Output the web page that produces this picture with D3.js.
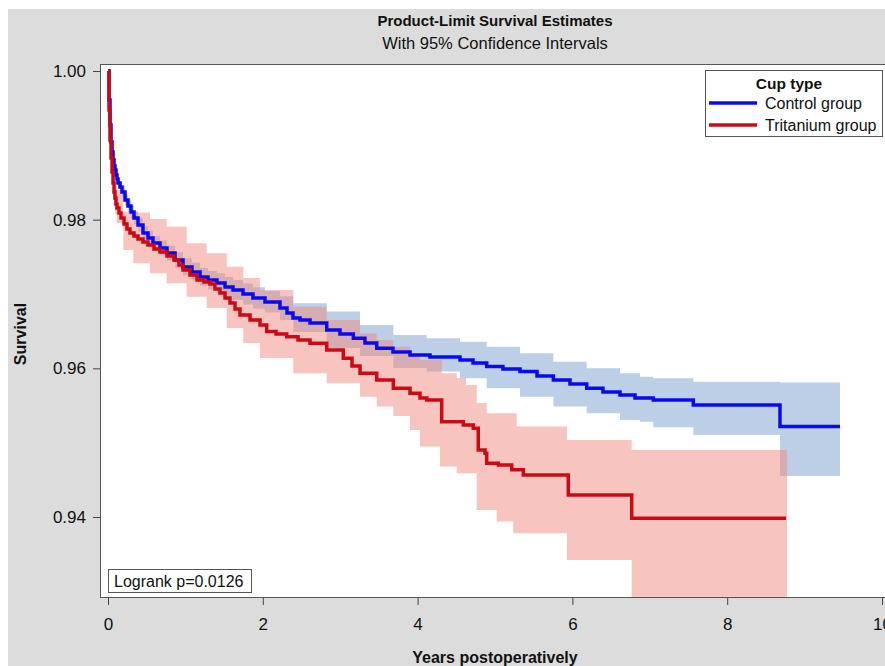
<!DOCTYPE html>
<html>
<head>
<meta charset="utf-8">
<script src="https://cdn.jsdelivr.net/npm/d3@7"></script>
<style>
  body { margin: 0; background: #fff; }
  svg { display: block; font-family: "Liberation Sans", Arial, sans-serif; }
</style>
</head>
<body>
<svg id="chart" width="885" height="666"></svg>
<script>
// Product-limit estimates: [years, survival]
const controlSurv = [
  [0, 1], [0.013, 0.9961], [0.026, 0.99274], [0.039, 0.99045], [0.052, 0.98911],
  [0.065, 0.98803], [0.078, 0.98722], [0.09, 0.98668], [0.103, 0.98601], [0.116, 0.98547],
  [0.129, 0.98494], [0.155, 0.9844], [0.181, 0.98373], [0.22, 0.98265], [0.258, 0.98184],
  [0.297, 0.98104], [0.336, 0.98023], [0.388, 0.97929], [0.452, 0.97821], [0.517, 0.97754],
  [0.581, 0.97687], [0.672, 0.9762], [0.762, 0.97552], [0.866, 0.97458], [0.969, 0.97364],
  [1.085, 0.97297], [1.189, 0.97229], [1.292, 0.97189], [1.408, 0.97149], [1.512, 0.97095],
  [1.615, 0.97055], [1.744, 0.97001], [1.873, 0.96947], [2.028, 0.96893], [2.222, 0.96812],
  [2.313, 0.96745], [2.39, 0.96678], [2.481, 0.96651], [2.61, 0.96611], [2.826, 0.96517],
  [2.997, 0.96463], [3.17, 0.96405], [3.32, 0.96342], [3.472, 0.9627], [3.682, 0.96221],
  [3.902, 0.9618], [4.16, 0.96153], [4.548, 0.96113], [4.716, 0.96073], [4.893, 0.96023],
  [5.103, 0.95992], [5.323, 0.95956], [5.543, 0.95898], [5.754, 0.95844], [5.969, 0.9579],
  [6.185, 0.95732], [6.395, 0.95683], [6.615, 0.95642], [6.809, 0.95602], [7.045, 0.95575],
  [7.562, 0.95508], [8.682, 0.95216], [9.457, 0.95216]
]
const tritaniumSurv = [
  [0, 1], [0.013, 0.99475], [0.026, 0.99072], [0.039, 0.9883], [0.052, 0.98642],
  [0.065, 0.98494], [0.078, 0.98373], [0.09, 0.98292], [0.103, 0.98211], [0.116, 0.98157],
  [0.142, 0.9809], [0.168, 0.98023], [0.207, 0.97942], [0.245, 0.97875], [0.284, 0.97821],
  [0.336, 0.97781], [0.388, 0.9774], [0.452, 0.977], [0.517, 0.9766], [0.594, 0.97606],
  [0.672, 0.97566], [0.762, 0.97512], [0.853, 0.97458], [0.917, 0.97391], [0.969, 0.97323],
  [1.059, 0.97256], [1.15, 0.97189], [1.24, 0.97162], [1.318, 0.97135], [1.382, 0.97068],
  [1.447, 0.97014], [1.512, 0.96947], [1.576, 0.9688], [1.641, 0.96799], [1.705, 0.96718],
  [1.835, 0.96651], [1.964, 0.96584], [2.05, 0.96494], [2.171, 0.96463], [2.309, 0.96426],
  [2.455, 0.96382], [2.61, 0.96338], [2.826, 0.96248], [3.04, 0.96136], [3.152, 0.96032],
  [3.256, 0.95934], [3.472, 0.95844], [3.686, 0.95732], [3.902, 0.95665], [4.031, 0.95602],
  [4.118, 0.95575], [4.311, 0.95283], [4.591, 0.95239], [4.72, 0.95194], [4.784, 0.94902],
  [4.871, 0.94858], [4.893, 0.94724], [5.043, 0.94701], [5.216, 0.94634], [5.366, 0.94566],
  [5.947, 0.94297], [6.766, 0.93984], [8.76, 0.93984]
]
// 95% confidence limits: [years, lower, upper]
const controlCI = [
  [0, 1, 1], [0.013, 0.9958, 0.9964], [0.026, 0.9924, 0.9931], [0.039, 0.99, 0.9909],
  [0.052, 0.9886, 0.9896], [0.065, 0.9875, 0.9886], [0.078, 0.9867, 0.9878], [0.09, 0.9861, 0.9873],
  [0.103, 0.9854, 0.9866], [0.129, 0.9843, 0.9856], [0.155, 0.9837, 0.9851], [0.181, 0.983, 0.9845],
  [0.22, 0.9819, 0.9834], [0.258, 0.981, 0.9827], [0.297, 0.9802, 0.9819], [0.336, 0.9794, 0.9811],
  [0.388, 0.9784, 0.9802], [0.452, 0.9773, 0.9791], [0.517, 0.9766, 0.9785], [0.581, 0.9759, 0.9778],
  [0.672, 0.9752, 0.9772], [0.762, 0.9745, 0.9765], [0.866, 0.9735, 0.9756], [0.969, 0.9725, 0.9748],
  [1.085, 0.9718, 0.9742], [1.189, 0.9711, 0.9735], [1.292, 0.9706, 0.9731], [1.408, 0.9702, 0.9728],
  [1.512, 0.9696, 0.9723], [1.615, 0.9692, 0.9719], [1.744, 0.9686, 0.9714], [1.873, 0.968, 0.9709],
  [2.028, 0.9675, 0.9704], [2.222, 0.9665, 0.9697], [2.394, 0.96489, 0.96876],
  [2.826, 0.96274, 0.96763], [3.256, 0.96167, 0.96584], [3.686, 0.96005, 0.96449],
  [4.118, 0.95956, 0.96405], [4.548, 0.95867, 0.96359], [4.893, 0.95732, 0.96292],
  [5.323, 0.95619, 0.96203], [5.754, 0.95485, 0.9609], [6.185, 0.95396, 0.96001],
  [6.615, 0.95306, 0.95934], [6.873, 0.95283, 0.95888], [7.045, 0.95208, 0.95867],
  [7.562, 0.95104, 0.95821], [8.682, 0.94553, 0.95808], [9.457, 0.94553, 0.95808]
]
const tritaniumCI = [
  [0, 1, 1], [0.013, 0.994, 0.9955], [0.026, 0.9898, 0.9916], [0.039, 0.987, 0.9896],
  [0.052, 0.985, 0.988], [0.065, 0.9833, 0.9866], [0.078, 0.9818, 0.9856], [0.09, 0.9807, 0.9851],
  [0.112, 0.97956, 0.98399], [0.198, 0.97592, 0.98108],
  [0.327, 0.97414, 0.98097], [0.543, 0.97279, 0.98009], [0.758, 0.97145, 0.97906],
  [1.017, 0.96964, 0.97683], [1.275, 0.96812, 0.97548], [1.534, 0.96543, 0.97368],
  [1.748, 0.96342, 0.97216], [1.964, 0.9614, 0.97054], [2.394, 0.95934, 0.9683],
  [2.826, 0.958, 0.96651], [3.256, 0.95619, 0.96472], [3.472, 0.95485, 0.96382],
  [3.686, 0.9536, 0.96292], [3.902, 0.95172, 0.9618], [4.031, 0.94947, 0.96113],
  [4.289, 0.94678, 0.96113], [4.311, 0.94678, 0.95934], [4.505, 0.94589, 0.95871],
  [4.625, 0.94589, 0.95777], [4.764, 0.94095, 0.95535], [4.893, 0.94095, 0.95396],
  [5.022, 0.93938, 0.95396], [5.236, 0.93782, 0.95396], [5.28, 0.93782, 0.95216],
  [5.93, 0.93423, 0.95037], [6.766, 0.92, 0.94902], [8.773, 0.92, 0.94902]
]
const groups = ["Control group", "Tritanium group"]
const xTicks = [0, 2, 4, 6, 8, 10]
const yTicks = [0.94, 0.96, 0.98, 1.00]
const logrankText = "Logrank p=0.0126"

const W = 885, H = 666
const plot = {left: 100, top: 64, right: 892, bottom: 598}
const lineColors = ["#0a0af0", "#cc0a14"]
const bandColors = ["#7b9dd0", "#f08a80"]

const svg = d3.select("#chart")

// grey page + white plot area
svg.append("rect").attr("x", 8).attr("y", 9).attr("width", W - 8).attr("height", H - 9).attr("fill", "#dcdcdc")
svg.append("rect")
  .attr("x", plot.left).attr("y", plot.top)
  .attr("width", plot.right - plot.left).attr("height", plot.bottom - plot.top)
  .attr("fill", "#fff")

const x = d3.scaleLinear().domain([0, 10]).range([108, 882])
const y = d3.scaleLinear().domain([0.94, 1.00]).range([517, 71])

svg.append("clipPath").attr("id", "clip")
  .append("rect")
  .attr("x", plot.left).attr("y", plot.top)
  .attr("width", plot.right - plot.left).attr("height", plot.bottom - plot.top)

const g = svg.append("g").attr("clip-path", "url(#clip)")

const band = d3.area()
  .curve(d3.curveStepAfter)
  .x(d => x(d[0]))
  .y0(d => y(d[1]))
  .y1(d => y(d[2]))

const line = d3.line()
  .curve(d3.curveStepAfter)
  .x(d => x(d[0]))
  .y(d => y(d[1]))

// bands first, then the curves on top
;[controlCI, tritaniumCI].forEach((ci, i) => {
  g.append("path")
    .datum(ci)
    .attr("fill", bandColors[i])
    .attr("fill-opacity", 0.5)
    .attr("d", band)
})
;[controlSurv, tritaniumSurv].forEach((s, i) => {
  g.append("path")
    .datum(s)
    .attr("fill", "none")
    .attr("stroke", lineColors[i])
    .attr("stroke-width", 3.5)
    .attr("d", line)
})

// frame
svg.append("rect")
  .attr("x", plot.left + 0.5).attr("y", plot.top + 0.5)
  .attr("width", plot.right - plot.left).attr("height", plot.bottom - plot.top - 1)
  .attr("fill", "none")
  .attr("stroke", "#555")

// axes
svg.append("g")
  .attr("transform", `translate(${plot.left},0)`)
  .call(d3.axisLeft(y).tickValues(yTicks).tickFormat(d3.format(".2f")).tickSize(7).tickPadding(7))
  .call(a => a.select(".domain").remove())
  .call(a => a.selectAll("line").attr("stroke", "#444"))
  .call(a => a.selectAll("text").attr("fill", "#111"))
  .attr("font-size", 17)
  .attr("font-family", "Liberation Sans, Arial, sans-serif")

svg.append("g")
  .attr("transform", `translate(0,${plot.bottom})`)
  .call(d3.axisBottom(x).tickValues(xTicks).tickFormat(d3.format("d")).tickSize(7).tickPadding(13))
  .call(a => a.select(".domain").remove())
  .call(a => a.selectAll("line").attr("stroke", "#444"))
  .call(a => a.selectAll("text").attr("fill", "#111"))
  .attr("font-size", 17)
  .attr("font-family", "Liberation Sans, Arial, sans-serif")

// titles
svg.append("text")
  .attr("x", 495).attr("y", 26)
  .attr("text-anchor", "middle")
  .attr("font-weight", "bold")
  .attr("font-size", 15)
  .attr("fill", "#111")
  .text("Product-Limit Survival Estimates")

svg.append("text")
  .attr("x", 495).attr("y", 49)
  .attr("text-anchor", "middle")
  .attr("font-size", 16.5)
  .attr("fill", "#111")
  .text("With 95% Confidence Intervals")

svg.append("text")
  .attr("x", 495).attr("y", 663)
  .attr("text-anchor", "middle")
  .attr("font-weight", "bold")
  .attr("font-size", 16)
  .attr("fill", "#111")
  .text("Years postoperatively")

svg.append("text")
  .attr("transform", "translate(26,334) rotate(-90)")
  .attr("text-anchor", "middle")
  .attr("font-weight", "bold")
  .attr("font-size", 16)
  .attr("fill", "#111")
  .text("Survival")

// legend
const legend = svg.append("g").attr("transform", "translate(705,70)")
legend.append("rect")
  .attr("x", 0.5).attr("y", 0.5)
  .attr("width", 177).attr("height", 66)
  .attr("fill", "#fff")
  .attr("stroke", "#555")
legend.append("text")
  .attr("x", 84).attr("y", 19)
  .attr("text-anchor", "middle")
  .attr("font-weight", "bold")
  .attr("font-size", 15.5)
  .attr("fill", "#111")
  .text("Cup type")
groups.forEach((name, i) => {
  const yy = 33 + i * 22
  legend.append("line")
    .attr("x1", 4).attr("x2", 52)
    .attr("y1", yy).attr("y2", yy)
    .attr("stroke", lineColors[i])
    .attr("stroke-width", 3.5)
  legend.append("text")
    .attr("x", 60).attr("y", yy + 6)
    .attr("font-size", 16)
    .attr("fill", "#111")
    .text(name)
})

// logrank box
svg.append("rect")
  .attr("x", 108.5).attr("y", 569.5)
  .attr("width", 143).attr("height", 23)
  .attr("fill", "#fff")
  .attr("stroke", "#555")
svg.append("text")
  .attr("x", 114).attr("y", 587)
  .attr("font-size", 16)
  .attr("fill", "#111")
  .text(logrankText)
</script>
</body>
</html>
